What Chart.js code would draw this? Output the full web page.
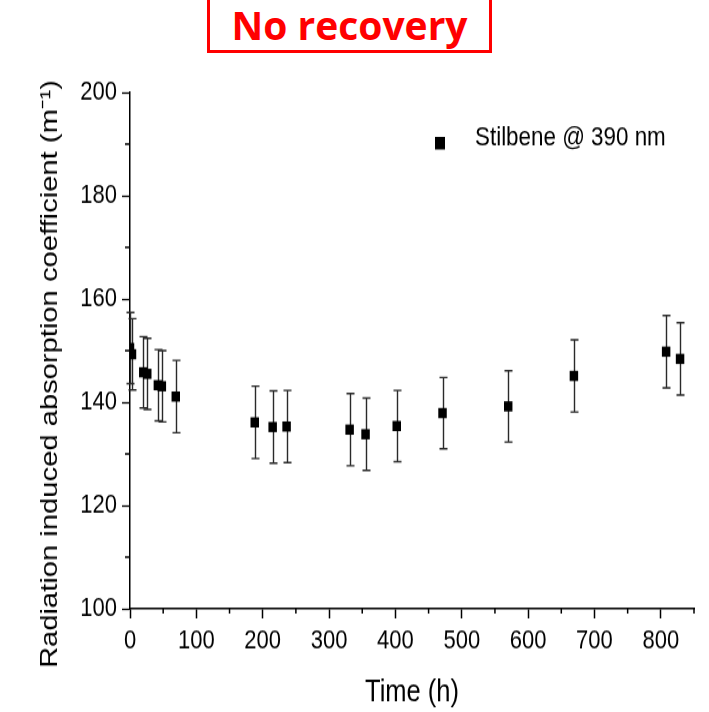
<!DOCTYPE html>
<html>
<head>
<meta charset="utf-8">
<script src="https://cdn.jsdelivr.net/npm/chart.js@4.4.0/dist/chart.umd.min.js"></script>
<style>
  html, body { margin: 0; padding: 0; background: #fff; }
  #wrap { position: relative; width: 709px; height: 712px; overflow: hidden; }
  #stretch { position: absolute; left: 0; top: 0; width: 709px; height: 593px;
             transform: scaleY(1.2007); transform-origin: 0 0; }
  #box {
    position: absolute; left: 207px; top: -10px; width: 279px; height: 57px;
    border: 3px solid #ff0000; color: #ff0000; background: #fff;
    font-family: "Open Sans", sans-serif; font-weight: 700; font-size: 39px;
    text-align: center; line-height: 64px; box-sizing: content-box; white-space: nowrap;
  }
  canvas { display: block; }
</style>
</head>
<body>
<div id="wrap">
  <div id="stretch"><canvas id="c" width="709" height="593"></canvas></div>
  <div id="box">No recovery</div>
</div>
<script>
// ---- data ----
const timeH  = [0, 3, 20, 26, 42, 48, 69, 188, 215, 236, 331, 355, 402, 471, 570, 669, 808, 829];
const absorb = [150.5, 149.3, 145.8, 145.5, 143.3, 143.1, 141.1, 136.1, 135.2, 135.3, 134.7, 133.8, 135.4, 137.9, 139.2, 145.1, 149.8, 148.4];
const errBar = [6.9, 6.9, 6.9, 6.9, 6.9, 6.9, 7.0, 7.0, 7.0, 7.0, 7.0, 7.0, 6.9, 6.9, 6.9, 7.0, 7.0, 7.0];
const seriesName = 'Stilbene @ 390 nm';
const xTitle = 'Time (h)';
const yTitle = 'Radiation induced absorption coefficient (m\u207B\u00B9)';
const xMajor = [0, 100, 200, 300, 400, 500, 600, 700, 800];
const xMinor = [50, 150, 250, 350, 450, 550, 650, 750, 850];
const yMajor = [100, 120, 140, 160, 180, 200];
const yMinor = [110, 130, 150, 170, 190];

const FONT = '"Liberation Sans", Arial, sans-serif';

const errorBarPlugin = {
  id: 'errorBars',
  beforeDatasetsDraw(chart) {
    const ctx = chart.ctx;
    const xs = chart.scales.x, ys = chart.scales.y;
    ctx.save();
    ctx.strokeStyle = '#2a2a2a';
    ctx.lineWidth = 1.4;
    for (let i = 0; i < timeH.length; i++) {
      const px = Math.round(xs.getPixelForValue(timeH[i])) + 0.5;
      const top = ys.getPixelForValue(absorb[i] + errBar[i]);
      const bot = ys.getPixelForValue(absorb[i] - errBar[i]);
      ctx.beginPath();
      ctx.moveTo(px, top); ctx.lineTo(px, bot);
      ctx.moveTo(px - 4, top); ctx.lineTo(px + 4, top);
      ctx.moveTo(px - 4, bot); ctx.lineTo(px + 4, bot);
      ctx.stroke();
    }
    ctx.restore();
  }
};

const decorPlugin = {
  id: 'decor',
  afterDraw(chart) {
    const ctx = chart.ctx;
    const xs = chart.scales.x, ys = chart.scales.y;
    const ca = chart.chartArea;
    ctx.save();
    // minor ticks
    ctx.strokeStyle = '#000';
    ctx.lineWidth = 1.5;
    ctx.beginPath();
    xMinor.forEach(v => { const p = xs.getPixelForValue(v); ctx.moveTo(p, ca.bottom); ctx.lineTo(p, ca.bottom + 4); });
    yMinor.forEach(v => { const p = ys.getPixelForValue(v); ctx.moveTo(ca.left, p); ctx.lineTo(ca.left - 5, p); });
    ctx.stroke();
    // legend
    const lx = ca.right - 254, ly = ca.top + 42;
    ctx.fillStyle = '#000';
    ctx.fillRect(lx - 5, ly - 5, 10, 10.5);
    ctx.font = '22.4px ' + FONT;
    ctx.textBaseline = 'alphabetic';
    ctx.textAlign = 'left';
    ctx.fillText(seriesName, lx + 35, ly + 2);
    // y axis title
    ctx.translate(ca.left - 80, (ca.top + ca.bottom) / 2 + 19.5);
    ctx.rotate(-Math.PI / 2);
    ctx.font = '24.3px ' + FONT;
    ctx.textAlign = 'center';
    ctx.textBaseline = 'middle';
    ctx.fillText(yTitle, 0, 0);
    ctx.restore();
  }
};

new Chart(document.getElementById('c'), {
  type: 'scatter',
  data: {
    datasets: [{
      label: seriesName,
      data: timeH.map((t, i) => ({ x: t, y: absorb[i] })),
      pointStyle: 'rect',
      pointRadius: 6,
      pointHoverRadius: 6,
      backgroundColor: '#000',
      borderColor: '#000',
      borderWidth: 0
    }]
  },
  options: {
    responsive: false,
    animation: false,
    layout: { padding: { left: 0, right: 15, top: 77, bottom: 0 } },
    plugins: { legend: { display: false }, tooltip: { enabled: false } },
    scales: {
      x: {
        type: 'linear', min: 0, max: 850,
        afterBuildTicks(s) { s.ticks = xMajor.map(v => ({ value: v })); },
        afterFit(s) { s.height = 86; },
        grid: { drawOnChartArea: false, drawTicks: true, tickLength: 8, tickColor: '#000', tickWidth: 1.5 },
        border: { display: true, color: '#000', width: 1.4 },
        ticks: { color: '#000', font: { family: FONT, size: 22 }, padding: 6, maxRotation: 0, autoSkip: false },
        title: { display: true, text: xTitle, color: '#000', font: { family: FONT, size: 25.5 }, padding: { top: 0, bottom: 1 } }
      },
      y: {
        type: 'linear', min: 100, max: 200,
        afterBuildTicks(s) { s.ticks = yMajor.map(v => ({ value: v })); },
        afterFit(s) { s.width = 130; },
        grid: { drawOnChartArea: false, drawTicks: true, tickLength: 8, tickColor: '#000', tickWidth: 1.3 },
        border: { display: true, color: '#000', width: 1.5 },
        ticks: { color: '#000', font: { family: FONT, size: 22 }, padding: 5, autoSkip: false },
        title: { display: false }
      }
    }
  },
  plugins: [errorBarPlugin, decorPlugin]
});
</script>
</body>
</html>
